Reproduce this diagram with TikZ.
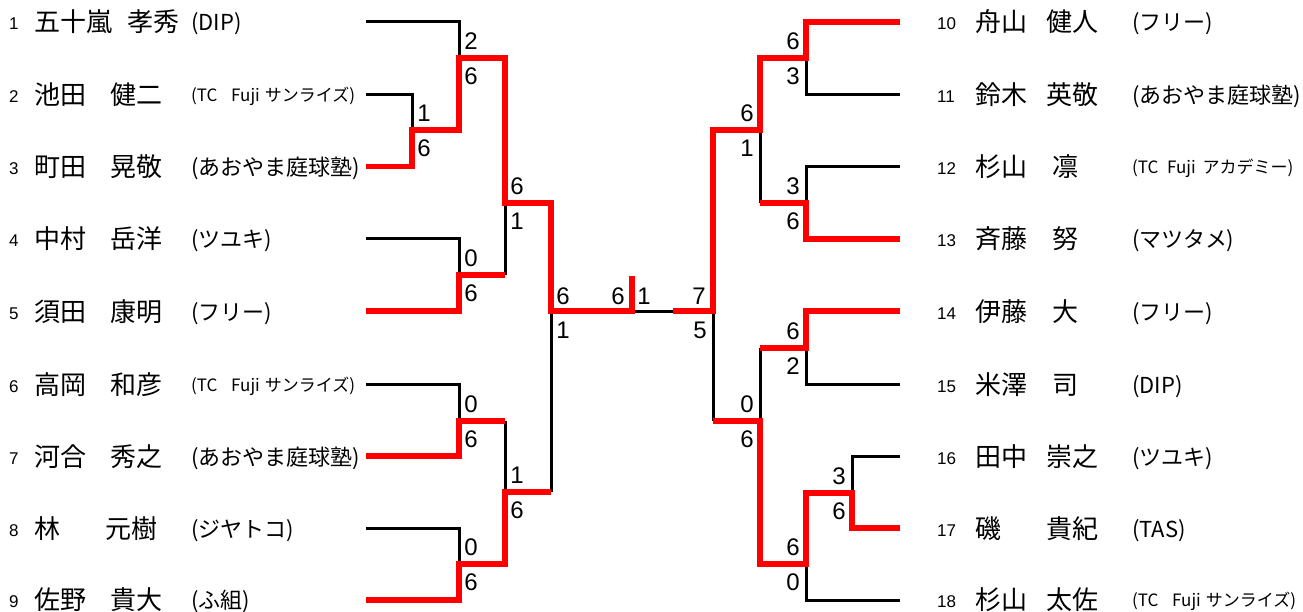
\documentclass[tikz,border=0pt]{standalone}
\usepackage{fontspec}
\newfontfamily\jp{Noto Sans CJK JP}
\newfontfamily\ar{Liberation Sans}
\usetikzlibrary{calc}
\tikzset{
  bk/.style={line width=3pt,black},
  rd/.style={line width=5.5pt,red},
  sc/.style={font=\ar\fontsize{24}{24}\selectfont,inner sep=0pt,anchor=center},
  seed/.style={font=\ar\fontsize{17}{17}\selectfont,inner sep=0pt,anchor=base west},
  nm/.style={font=\jp\fontsize{26}{26}\selectfont,inner sep=0pt,anchor=base west},
  tm/.style={font=\jp\fontsize{22}{22}\selectfont,inner sep=0pt,anchor=base west},
  tms/.style={font=\jp\fontsize{17}{17}\selectfont,inner sep=0pt,anchor=base west}
}
\newcommand\tcsun{(TC\hspace{0.8em}Fuji\hspace{0.3em}サンライズ)}
\newcommand\tcaca{(TC\hspace{0.5em}Fuji\hspace{0.4em}アカデミー)}
\begin{document}
\begin{tikzpicture}[x=1pt,y=-1pt]
\useasboundingbox (0,0) rectangle (1303,612);
% player line ends
\coordinate (a1) at (366,22);
\coordinate (a2) at (366,94.5);
\coordinate (a3) at (366,166.5);
\coordinate (a4) at (366,239);
\coordinate (a5) at (366,311);
\coordinate (a6) at (366,384);
\coordinate (a7) at (366,456);
\coordinate (a8) at (366,528);
\coordinate (a9) at (366,600);
\coordinate (a10) at (900,22);
\coordinate (a11) at (900,94.5);
\coordinate (a12) at (900,166.5);
\coordinate (a13) at (900,239);
\coordinate (a14) at (900,311);
\coordinate (a15) at (900,384);
\coordinate (a16) at (900,456);
\coordinate (a17) at (900,528);
\coordinate (a18) at (900,600);
% junctions left
\coordinate (m23) at (412,130);
\coordinate (m1) at (459,58);
\coordinate (m45) at (459,275);
\coordinate (mq1) at (505,203);
\coordinate (m67) at (459,421);
\coordinate (m89) at (459,564);
\coordinate (mq2) at (505,492);
\coordinate (ms1) at (551,311);
\coordinate (f) at (632,311);
\coordinate (ft) at (632,276);
\coordinate (fr) at (673,311);
% junctions right
\coordinate (m1011) at (806,58);
\coordinate (mq3) at (760,130);
\coordinate (m1213) at (806,203);
\coordinate (ms2) at (713,311);
\coordinate (m1415) at (806,348);
\coordinate (mq4) at (760,421);
\coordinate (m1617) at (852,493);
\coordinate (m1718) at (806,564);

% black lines
\draw[bk] (a1) -| (m1);
\draw[bk] (a2) -| (m23);
\draw[bk] (a4) -| (m45);
\draw[bk] (mq1) -- (m45 -| mq1);
\draw[bk] (a6) -| (m67);
\draw[bk] (m67 -| mq2) -- (mq2);
\draw[bk] (a8) -| (m89);
\draw[bk] (mq2 -| ms1) -- (ms1);
\draw[bk] (f) -- (fr);
\draw[bk] (a11) -| (m1011);
\draw[bk] (a12) -| (m1213);
\draw[bk] (m1213 -| mq3) -- (mq3);
\draw[bk] (a15) -| (m1415);
\draw[bk] (m1415 -| mq4) -- (mq4);
\draw[bk] (a16) -| (m1617);
\draw[bk] (a18) -| (m1718);
\draw[bk] (mq4 -| ms2) -- (ms2);

% red lines
\draw[rd] (a3) -| (m23) -- (m23 -| m1) -- (m1) -- (m1 -| mq1) -- (mq1) -- (mq1 -| ms1) -- (ms1) -- (f) -- (ft);
\draw[rd] (a5) -| (m45) -- (m45 -| mq1);
\draw[rd] (a7) -| (m67) -- (m67 -| mq2);
\draw[rd] (a9) -| (m89) -- (m89 -| mq2) -- (mq2) -- (mq2 -| ms1);
\draw[rd] (a10) -| (m1011) -- (m1011 -| mq3) -- (mq3) -- (mq3 -| ms2) -- (ms2) -- (fr);
\draw[rd] (a13) -| (m1213) -- (m1213 -| mq3);
\draw[rd] (a14) -| (m1415) -- (m1415 -| mq4);
\draw[rd] (a17) -| (m1617) -- (m1617 -| m1718) -- (m1718) -- (m1718 -| mq4) -- (mq4) -- (mq4 -| ms2);

% scores left
\node[sc] (s1a) at ($(m1)+(12,-17)$) {2};
\node[sc] (s1b) at ($(m1)+(12,18)$) {6};
\node[sc] (s2a) at ($(m23)+(12,-17)$) {1};
\node[sc] (s2b) at ($(m23)+(12,18)$) {6};
\node[sc] (s3a) at ($(mq1)+(12,-17)$) {6};
\node[sc] (s3b) at ($(mq1)+(12,18)$) {1};
\node[sc] (s4a) at ($(m45)+(12,-17)$) {0};
\node[sc] (s4b) at ($(m45)+(12,18)$) {6};
\node[sc] (s5a) at ($(m67)+(12,-17)$) {0};
\node[sc] (s5b) at ($(m67)+(12,18)$) {6};
\node[sc] (s6a) at ($(mq2)+(12,-17)$) {1};
\node[sc] (s6b) at ($(mq2)+(12,18)$) {6};
\node[sc] (s7a) at ($(m89)+(12,-17)$) {0};
\node[sc] (s7b) at ($(m89)+(12,18)$) {6};
\node[sc] (s8a) at ($(ms1)+(12,-15)$) {6};
\node[sc] (s8b) at ($(ms1)+(12,19)$) {1};
\node[sc] (sfa) at ($(f)+(-14,-15)$) {6};
\node[sc] (sfb) at ($(f)+(12,-15)$) {1};
% scores right
\node[sc] (r1a) at ($(m1011)+(-13,-17)$) {6};
\node[sc] (r1b) at ($(m1011)+(-13,18)$) {3};
\node[sc] (r2a) at ($(mq3)+(-13,-17)$) {6};
\node[sc] (r2b) at ($(mq3)+(-13,18)$) {1};
\node[sc] (r3a) at ($(m1213)+(-13,-17)$) {3};
\node[sc] (r3b) at ($(m1213)+(-13,18)$) {6};
\node[sc] (r4a) at ($(ms2)+(-14,-15)$) {7};
\node[sc] (r4b) at ($(ms2)+(-13,19)$) {5};
\node[sc] (r5a) at ($(m1415)+(-13,-17)$) {6};
\node[sc] (r5b) at ($(m1415)+(-13,18)$) {2};
\node[sc] (r6a) at ($(mq4)+(-13,-17)$) {0};
\node[sc] (r6b) at ($(mq4)+(-13,18)$) {6};
\node[sc] (r7a) at ($(m1617)+(-13,-17)$) {3};
\node[sc] (r7b) at ($(m1617)+(-13,18)$) {6};
\node[sc] (r8a) at ($(m1718)+(-13,-17)$) {6};
\node[sc] (r8b) at ($(m1718)+(-13,18)$) {0};

% left players
\node[seed] (n1) at (9,30) {1};
\node[nm] (f1) at (34,32) {五十嵐};
\node[nm] (g1) at (127,32) {孝秀};
\node[tm] (t1) at (191,31) {(DIP)};
\node[seed] (n2) at (9,102.5) {2};
\node[nm] (f2) at (34,104.5) {池田};
\node[nm] (g2) at (110,104.5) {健二};
\node[tms] (t2) at (191,101.5) {\tcsun};
\node[seed] (n3) at (9,174.5) {3};
\node[nm] (f3) at (34,176.5) {町田};
\node[nm] (g3) at (110,176.5) {晃敬};
\node[tm] (t3) at (191,175.5) {(あおやま庭球塾)};
\node[seed] (n4) at (9,247) {4};
\node[nm] (f4) at (34,249) {中村};
\node[nm] (g4) at (110,249) {岳洋};
\node[tm] (t4) at (191,248) {(ツユキ)};
\node[seed] (n5) at (9,319) {5};
\node[nm] (f5) at (34,321) {須田};
\node[nm] (g5) at (110,321) {康明};
\node[tm] (t5) at (191,320) {(フリー)};
\node[seed] (n6) at (9,392) {6};
\node[nm] (f6) at (34,394) {高岡};
\node[nm] (g6) at (110,394) {和彦};
\node[tms] (t6) at (191,391) {\tcsun};
\node[seed] (n7) at (9,464) {7};
\node[nm] (f7) at (34,466) {河合};
\node[nm] (g7) at (110,466) {秀之};
\node[tm] (t7) at (191,465) {(あおやま庭球塾)};
\node[seed] (n8) at (9,536) {8};
\node[nm] (f8) at (34,538) {林};
\node[nm] (g8) at (105,538) {元樹};
\node[tm] (t8) at (191,537) {(ジヤトコ)};
\node[seed] (n9) at (9,607) {9};
\node[nm] (f9) at (34,609) {佐野};
\node[nm] (g9) at (110,609) {貴大};
\node[tm] (t9) at (191,608) {(ふ組)};

% right players
\node[seed] (n10) at (937,30) {10};
\node[nm] (f10) at (975,32) {舟山};
\node[nm] (g10) at (1046,32) {健人};
\node[tm] (t10) at (1132,31) {(フリー)};
\node[seed] (n11) at (937,102.5) {11};
\node[nm] (f11) at (975,104.5) {鈴木};
\node[nm] (g11) at (1046,104.5) {英敬};
\node[tm] (t11) at (1132,103.5) {(あおやま庭球塾)};
\node[seed] (n12) at (937,174.5) {12};
\node[nm] (f12) at (975,176.5) {杉山};
\node[nm] (g12) at (1052,176.5) {凛};
\node[tms] (t12) at (1132,173.5) {\tcaca};
\node[seed] (n13) at (937,247) {13};
\node[nm] (f13) at (975,249) {斉藤};
\node[nm] (g13) at (1052,249) {努};
\node[tm] (t13) at (1132,248) {(マツタメ)};
\node[seed] (n14) at (937,319) {14};
\node[nm] (f14) at (975,321) {伊藤};
\node[nm] (g14) at (1052,321) {大};
\node[tm] (t14) at (1132,320) {(フリー)};
\node[seed] (n15) at (937,392) {15};
\node[nm] (f15) at (975,394) {米澤};
\node[nm] (g15) at (1052,394) {司};
\node[tm] (t15) at (1132,393) {(DIP)};
\node[seed] (n16) at (937,464) {16};
\node[nm] (f16) at (975,466) {田中};
\node[nm] (g16) at (1046,466) {崇之};
\node[tm] (t16) at (1132,465) {(ツユキ)};
\node[seed] (n17) at (937,536) {17};
\node[nm] (f17) at (975,538) {磯};
\node[nm] (g17) at (1046,538) {貴紀};
\node[tm] (t17) at (1132,537) {(TAS)};
\node[seed] (n18) at (937,607) {18};
\node[nm] (f18) at (975,609) {杉山};
\node[nm] (g18) at (1046,609) {太佐};
\node[tms] (t18) at (1132,606) {\tcsun};
\end{tikzpicture}
\end{document}
